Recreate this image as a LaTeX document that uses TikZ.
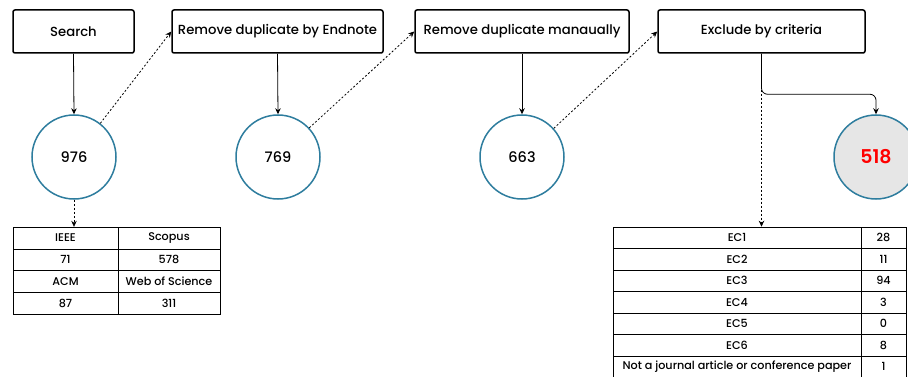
\documentclass[tikz,border=0pt]{standalone}
\usepackage{fontspec}
\setmainfont{Poppins Medium}
\newfontfamily\semifont{Poppins SemiBold}
\usepackage{xcolor}
\usepackage{tikz}
\usetikzlibrary{arrows.meta, positioning, calc}
\definecolor{circleblue}{RGB}{46, 125, 158}
\definecolor{keptgray}{RGB}{230, 230, 230}

\begin{document}
\begin{tikzpicture}[x=1pt, y=-1pt, >={Stealth[length=6pt, width=5.5pt]},
    stepbox/.style={rectangle, draw=black, line width=1.5pt, rounded corners=2pt, minimum height=43pt, inner sep=0pt, font=\fontsize{13.2}{15}\selectfont},
    count/.style={circle, draw=circleblue, line width=1.5pt, minimum size=84pt, inner sep=0pt, font=\fontsize{14.5}{16}\selectfont},
    cell/.style={rectangle, draw=black, line width=0.6pt, inner sep=0pt, font=\fontsize{11.2}{12}\selectfont},
    flow/.style={->, line width=0.8pt},
    skip/.style={->, line width=0.8pt, dash pattern=on 2pt off 2pt}]

    \useasboundingbox (0,0) rectangle (908,377);

    % Process steps
    \node[stepbox, minimum width=121pt] (search) at (73.5,31.5) {Search};
    \node[stepbox, minimum width=211pt] (endnote) at (277.5,31.5) {Remove duplicate by Endnote};
    \node[stepbox, minimum width=214pt] (manual) at (522,31.5) {Remove duplicate manaually};
    \node[stepbox, minimum width=207pt] (exclude) at (761.5,31.5) {Exclude by criteria};

    % Paper counts
    \node[count] (n976) at (74,157) {976};
    \node[count] (n769) at (278,157) {769};
    \node[count] (n663) at (522,157) {663};
    \node[count, fill=keptgray, text=red, font=\semifont\fontsize{19}{21}\selectfont] (n518) at (876,157) {518};

    % Sources table
    \node[cell, minimum width=105pt, minimum height=21.75pt] (ieee) at (65.5,238) {IEEE};
    \node[cell, minimum width=102pt, minimum height=21.75pt] (scopus) at (169,238) {Scopus};
    \node[cell, minimum width=105pt, minimum height=21.75pt] (ieeeN) at (65.5,259.75) {71};
    \node[cell, minimum width=102pt, minimum height=21.75pt] (scopusN) at (169,259.75) {578};
    \node[cell, minimum width=105pt, minimum height=21.75pt] (acm) at (65.5,281.5) {ACM};
    \node[cell, minimum width=102pt, minimum height=21.75pt] (wos) at (169,281.5) {Web of Science};
    \node[cell, minimum width=105pt, minimum height=21.75pt] (acmN) at (65.5,303.25) {87};
    \node[cell, minimum width=102pt, minimum height=21.75pt] (wosN) at (169,303.25) {311};

    % Exclusion criteria table
    \foreach \crit/\num [count=\i] in {EC1/28, EC2/11, EC3/94, EC4/3, EC5/0, EC6/8,
        Not a journal article or conference paper/1} {
        \node[cell, minimum width=248pt, minimum height=21.5pt] (ec\i) at (737,{227+21.5*(\i-0.5)}) {\crit};
        \node[cell, minimum width=45pt, minimum height=21.5pt] (ecN\i) at (883.5,{227+21.5*(\i-0.5)}) {\num};
    }

    % Connections
    \draw[flow] (search.south) -- (n976.north);
    \draw[flow] (endnote.south) -- (n769.north);
    \draw[flow] (manual.south) -- (n663.north);
    \draw[skip] (n976.52) -- (endnote.west);
    \draw[skip] (n769.43) -- (manual.west);
    \draw[skip] (n663.42) -- (exclude.west);
    \draw[skip] (n976.south) -- (n976.south |- ieee.north);
    \draw[skip] (exclude.south) -- (exclude.south |- ec1.north);
    \draw[flow, rounded corners=6pt] (exclude.south) |- ([yshift=20pt]n518.north) -- (n518.north);
\end{tikzpicture}
\end{document}
